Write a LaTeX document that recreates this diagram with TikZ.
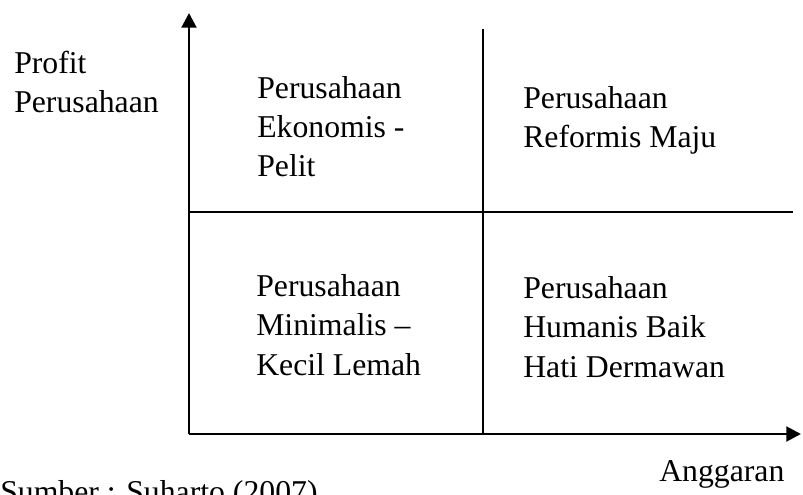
\documentclass[tikz,border=0pt]{standalone}
\usepackage{fontspec}
\setmainfont{Liberation Serif}
\usetikzlibrary{arrows.meta}

\tikzset{
  axisline/.style={line width=2.2pt,-{Triangle[length=11pt,width=11pt]}},
  divline/.style={line width=1.4pt},
  lbl/.style={anchor=base west,inner sep=0pt,align=left,font=\fontsize{23.8}{29.6}\selectfont}
}

\begin{document}
\begin{tikzpicture}[x=0.75pt,y=0.75pt,yscale=-1]
\useasboundingbox (0,0) rectangle (803,495);

% Axes corners
\coordinate (origin) at (189,434);
\coordinate (ytop) at (189,13);
\coordinate (xend) at (801,434);
\coordinate (midtop) at (483,29);
\coordinate (midbot) at (483,434);
\coordinate (midleft) at (189,212);
\coordinate (midright) at (793,212);

%Straight Lines (axes)
\draw [axisline] (origin) -- (ytop);
\draw [axisline] (origin) -- (xend);

%Straight Lines (quadrant dividers)
\draw [divline] (midtop) -- (midbot);
\draw [divline] (midleft) -- (midright);

% Text Node (placed at baseline of last line)
\node [lbl] (yaxis) at (14,113) {Profit\\Perusahaan};
% Text Node
\node [lbl] (ekonomis) at (257,177) {Perusahaan\\Ekonomis -\\Pelit};
% Text Node
\node [lbl] (reformis) at (523,148) {Perusahaan\\Reformis Maju};
% Text Node
\node [lbl] (minimalis) at (256,375) {Perusahaan\\Minimalis --\\Kecil Lemah};
% Text Node
\node [lbl] (humanis) at (523,377) {Perusahaan\\Humanis Baik\\Hati Dermawan};
% Text Node
\node [lbl] (xaxis) at (659,481) {Anggaran};
% Text Node
\node [lbl] (sumber) at (0,502) {Sumber : Suharto (2007)};

\end{tikzpicture}
\end{document}
